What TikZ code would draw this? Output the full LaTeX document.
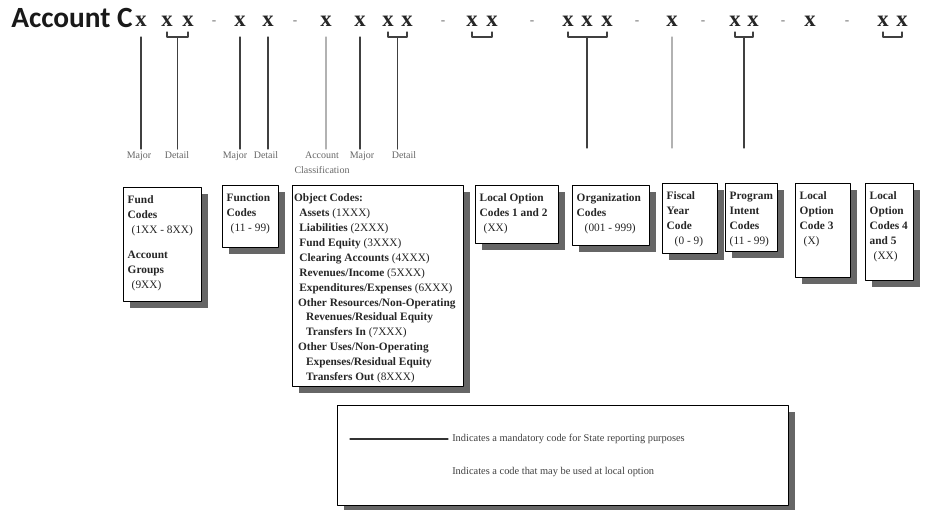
\documentclass[tikz,border=0pt]{standalone}
\usepackage{fontspec}
\setmainfont{Liberation Serif}
\newfontfamily\titlefont{Carlito}
\usetikzlibrary{shadows}
\usetikzlibrary{calc}

% box text: width and height in px of the box
\newcommand{\boxtext}[3]{\parbox[t][\dimexpr #2pt*3/4-8pt\relax][t]{\dimexpr #1pt*3/4-6pt\relax}{\raggedright\strut #3}}

\tikzset{
  codebox/.style={draw=black, line width=1.1pt, fill=white, anchor=north west,
    inner xsep=3pt, inner ysep=4pt, text=black!85,
    font=\fontsize{8.5}{11.2}\selectfont,
    drop shadow={shadow xshift=5pt, shadow yshift=-5pt, opacity=1, fill=black!60}},
  xch/.style={font=\fontsize{17}{17}\selectfont\bfseries, inner sep=0pt, anchor=base, text=black!85},
  dashch/.style={font=\fontsize{10}{10}\selectfont\bfseries, inner sep=0pt, anchor=base, text=black!50},
  brk/.style={line width=0.9pt, draw=black!75},
  stem/.style={line width=0.9pt, draw=black!75},
  faint/.style={line width=0.9pt, draw=black!30},
  lbl/.style={font=\fontsize{7.5}{9}\selectfont, text=black!60, anchor=north, inner sep=2pt, align=center},
  legtxt/.style={font=\fontsize{7.8}{9}\selectfont, text=black!75, anchor=west, inner sep=0pt}
}

\begin{document}
\begin{tikzpicture}[line cap=round,line join=round,x=0.75pt,y=-0.75pt]
\useasboundingbox (0,0) rectangle (925,510);

\node[anchor=base west, inner sep=0pt, text=black!90,
  font=\titlefont\fontsize{22}{22}\selectfont\bfseries] (title) at (11,28) {Account C};

% the code digits
\node[xch] (x1) at (141,27) {x};%fund
\node[xch] (x2) at (167,27) {x};
\node[xch] (x3) at (188,27) {x};
\node[dashch] (d1) at (214,25) {-};
\node[xch] (x4) at (240,27) {x};%function
\node[xch] (x5) at (268,27) {x};
\node[dashch] (d2) at (295,25) {-};
\node[xch] (x6) at (326,27) {x};%object
\node[xch] (x7) at (360,27) {x};
\node[xch] (x8) at (388,27) {x};
\node[xch] (x9) at (407,27) {x};
\node[dashch] (d3) at (443,25) {-};
\node[xch] (x10) at (472,27) {x};%local 1,2
\node[xch] (x11) at (492,27) {x};
\node[dashch] (d4) at (532,25) {-};
\node[xch] (x12) at (568,27) {x};%organization
\node[xch] (x13) at (587,27) {x};
\node[xch] (x14) at (607,27) {x};
\node[dashch] (d5) at (637,25) {-};
\node[xch] (x15) at (672,27) {x};%fiscal year
\node[dashch] (d6) at (703,25) {-};
\node[xch] (x16) at (735,27) {x};%program
\node[xch] (x17) at (753,27) {x};
\node[dashch] (d7) at (783,25) {-};
\node[xch] (x18) at (810,27) {x};%local 3
\node[dashch] (d8) at (847,25) {-};
\node[xch] (x19) at (883,27) {x};%local 4,5
\node[xch] (x20) at (902,27) {x};

\coordinate (btop) at (0,32);
\coordinate (bbot) at (0,37);
\coordinate (lend) at (0,148);

% brackets
\draw[brk] (x2 |- btop) -- (x2 |- bbot) -- (x3 |- bbot) -- (x3 |- btop);
\draw[brk] (x8 |- btop) -- (x8 |- bbot) -- (x9 |- bbot) -- (x9 |- btop);
\draw[brk] (x10 |- btop) -- (x10 |- bbot) -- (x11 |- bbot) -- (x11 |- btop);
\draw[brk] (x12 |- btop) -- (x12 |- bbot) -- (x14 |- bbot) -- (x14 |- btop);
\draw[brk] (x16 |- btop) -- (x16 |- bbot) -- (x17 |- bbot) -- (x17 |- btop);
\draw[brk] (x19 |- btop) -- (x19 |- bbot) -- (x20 |- bbot) -- (x20 |- btop);
\coordinate (fdet) at ($(x2 |- bbot)!.5!(x3 |- bbot)$);
\coordinate (odet) at ($(x8 |- bbot)!.5!(x9 |- bbot)$);
\coordinate (pdet) at ($(x16 |- bbot)!.5!(x17 |- bbot)$);

% labels
\node[lbl] (maj1) at (139,149) {Major};
\node[lbl] (det1) at (177,149) {Detail};
\node[lbl] (maj2) at (235,149) {Major};
\node[lbl] (det2) at (266,149) {Detail};
\node[lbl] (acct) at (322,149) {Account\\[2pt]Classification};
\node[lbl] (maj3) at (362,149) {Major};
\node[lbl] (det3) at (404,149) {Detail};

% lines down
\draw[stem] (x1 |- bbot) -- (x1 |- maj1.north);
\draw[stem] (fdet) -- (fdet |- det1.north);
\draw[stem] (x4 |- bbot) -- (x4 |- maj2.north);
\draw[stem] (x5 |- bbot) -- (x5 |- det2.north);
\draw[faint] (x6 |- bbot) -- (x6 |- acct.north);
\draw[stem] (x7 |- bbot) -- (x7 |- maj3.north);
\draw[stem] (odet) -- (odet |- det3.north);
\draw[stem] (x13 |- bbot) -- (x13 |- lend);
\draw[faint] (x15 |- bbot) -- (x15 |- lend);
\draw[stem] (pdet) -- (pdet |- lend);

% code boxes
\node[codebox] (fund) at (123,187) {\boxtext{78}{114}{\textbf{Fund}\\\textbf{Codes}\\\hspace*{3pt}(1XX - 8XX)\\[8pt]\textbf{Account}\\\textbf{Groups}\\\hspace*{3pt}(9XX)}};
\node[codebox] (func) at (222,185) {\boxtext{56}{62}{\textbf{Function}\\\textbf{Codes}\\\hspace*{3pt}(11 - 99)}};
\node[codebox] (obj) at (292,185) {\boxtext{171}{201}{\hspace*{-2pt}\textbf{Object Codes:}\\
  \hspace*{2pt}\textbf{Assets} (1XXX)\\
  \hspace*{2pt}\textbf{Liabilities} (2XXX)\\
  \hspace*{2pt}\textbf{Fund Equity} (3XXX)\\
  \hspace*{2pt}\textbf{Clearing Accounts} (4XXX)\\
  \hspace*{2pt}\textbf{Revenues/Income} (5XXX)\\
  \hspace*{2pt}\textbf{Expenditures/Expenses} (6XXX)\\
  \hspace*{1pt}\textbf{Other Resources/Non-Operating}\\
  \hspace*{7pt}\textbf{Revenues/Residual Equity}\\
  \hspace*{7pt}\textbf{Transfers In} (7XXX)\\
  \hspace*{1pt}\textbf{Other Uses/Non-Operating}\\
  \hspace*{7pt}\textbf{Expenses/Residual Equity}\\
  \hspace*{7pt}\textbf{Transfers Out} (8XXX)}};
\node[codebox] (loc12) at (475,185) {\boxtext{83}{58}{\textbf{Local Option}\\\textbf{Codes 1 and 2}\\\hspace*{3pt}(XX)}};
\node[codebox] (org) at (572,185) {\boxtext{77}{60}{\textbf{Organization}\\\textbf{Codes}\\\hspace*{6pt}(001 - 999)}};
\node[codebox] (fisc) at (662,183) {\boxtext{55}{70}{\textbf{Fiscal}\\\textbf{Year}\\\textbf{Code}\\\hspace*{6pt}(0 - 9)}};
\node[codebox] (prog) at (725,183) {\boxtext{52}{68}{\textbf{Program}\\\textbf{Intent}\\\textbf{Codes}\\(11 - 99)}};
\node[codebox] (loc3) at (795,183) {\boxtext{55}{94}{\textbf{Local}\\\textbf{Option}\\\textbf{Code 3}\\\hspace*{3pt}(X)}};
\node[codebox] (loc45) at (865,183) {\boxtext{48}{97}{\textbf{Local}\\\textbf{Option}\\\textbf{Codes 4}\\\textbf{and 5}\\\hspace*{3pt}(XX)}};

% legend
\node[codebox] (legend) at (337,405) {\boxtext{451}{100}{}};
\coordinate (ls) at (350,439);
\coordinate (le) at (448,439);
\draw[line width=0.8pt, black!80] (ls) -- (le);
\node[legtxt] (leg1) at (452,439) {Indicates a mandatory code for State reporting purposes};
\node[legtxt] (leg2) at (452,472) {Indicates a code that may be used at local option};
\end{tikzpicture}
\end{document}
